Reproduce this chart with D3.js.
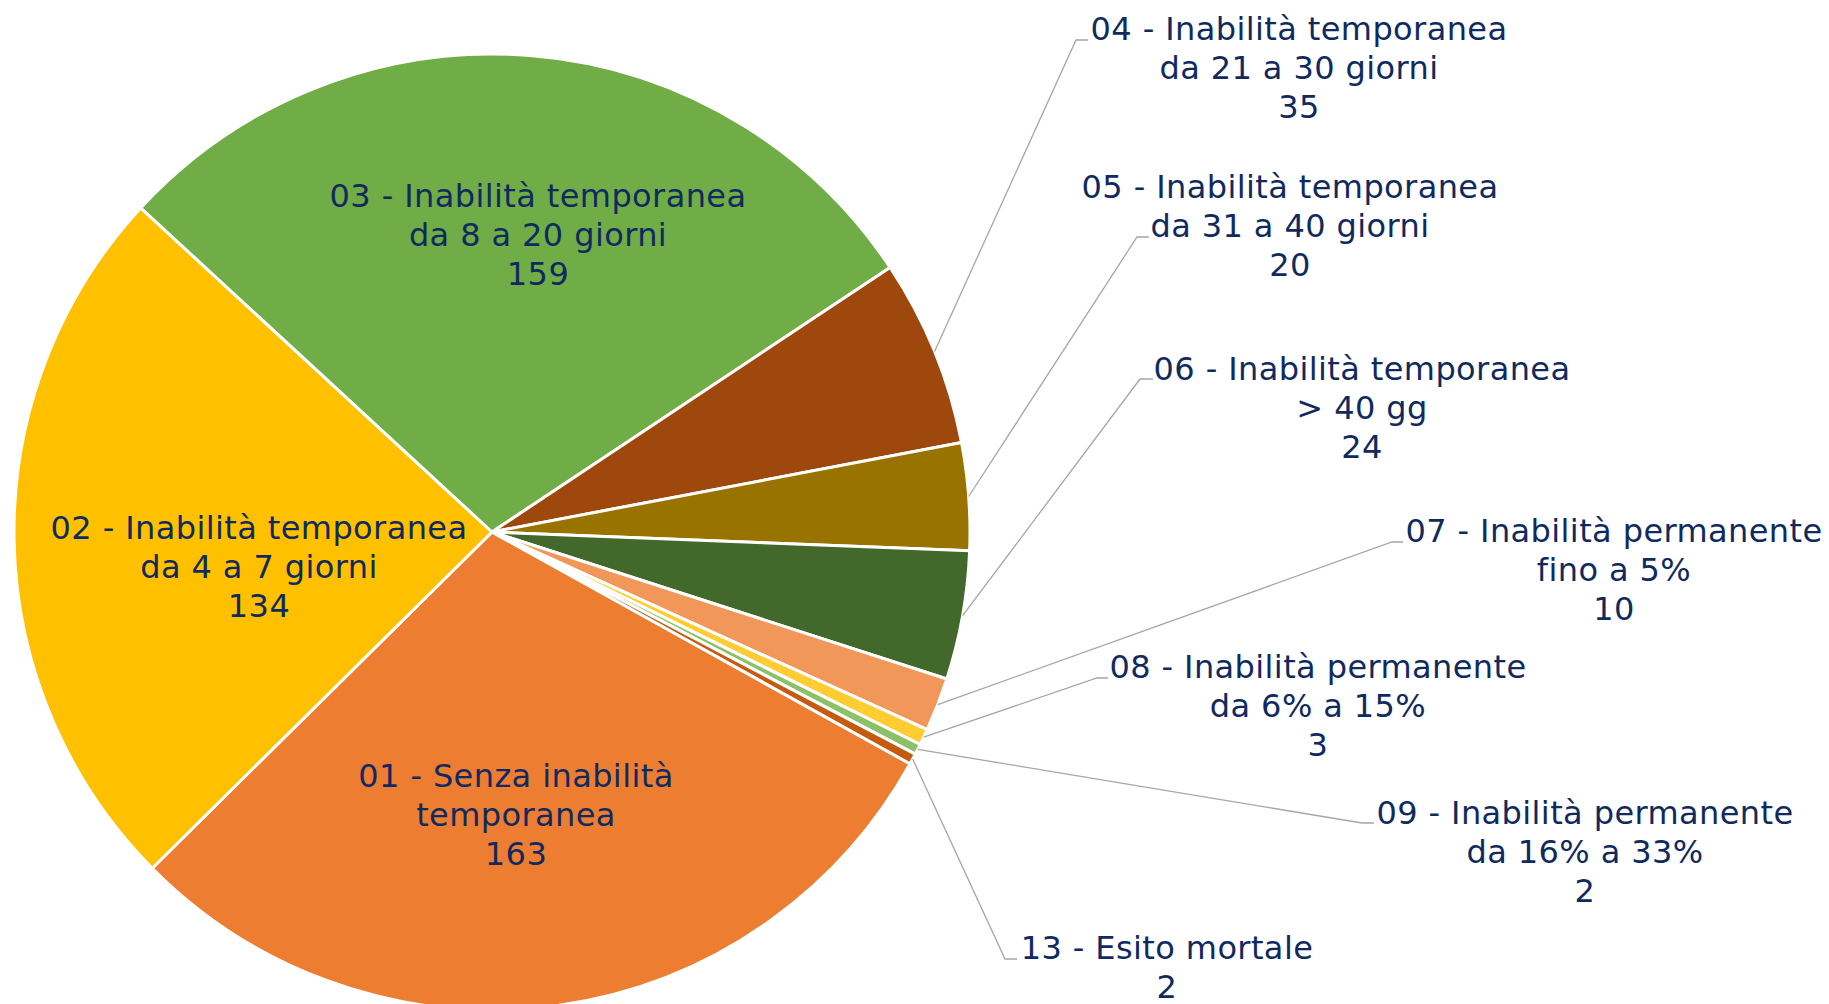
<!DOCTYPE html>
<html>
<head>
<meta charset="utf-8">
<script src="https://cdn.jsdelivr.net/npm/d3@7"></script>
<style>
  body { margin: 0; background: #fff; }
  svg { display: block; }
</style>
</head>
<body>
<div id="chart"></div>
<script>
// chart data
var categories = [
  ["01 - Senza inabilità", "temporanea"],
  ["02 - Inabilità temporanea", "da 4 a 7 giorni"],
  ["03 - Inabilità temporanea", "da 8 a 20 giorni"],
  ["04 - Inabilità temporanea", "da 21 a 30 giorni"],
  ["05 - Inabilità temporanea", "da 31 a 40 giorni"],
  ["06 - Inabilità temporanea", "> 40 gg"],
  ["07 - Inabilità permanente", "fino a 5%"],
  ["08 - Inabilità permanente", "da 6% a 15%"],
  ["09 - Inabilità permanente", "da 16% a 33%"],
  ["13 - Esito mortale"]
];
var values = [163, 134, 159, 35, 20, 24, 10, 3, 2, 2];
var colors = ["#ED7D31", "#FFC000", "#70AD47", "#9E480E", "#997300",
              "#43682B", "#F1975A", "#FFCD33", "#8CC168", "#C55A11"];

// label placement (label centre x, first line centre y, leader elbow), null elbow = inside label
var labelLayout = [
  {x: 516, y: 776, elbow: null},
  {x: 259, y: 528, elbow: null},
  {x: 538, y: 196, elbow: null},
  {x: 1299, y: 29, elbow: [1076, 40, 1088]},
  {x: 1290, y: 187, elbow: [1137, 237, 1149]},
  {x: 1362, y: 369, elbow: [1140, 379, 1153]},
  {x: 1614, y: 531, elbow: [1392, 542, 1403]},
  {x: 1318, y: 667, elbow: [1097, 678, 1108]},
  {x: 1585, y: 813, elbow: [1362, 823, 1374]},
  {x: 1167, y: 948, elbow: [1005, 959, 1017]}
];

var width = 1829,
    height = 1004;

var cx = 492,
    cy = 532,
    radius = 478;

var lineStep = 39,
    fontSize = 32,
    textColor = "#102A60";

var svg = d3.select("#chart")
  .append("svg")
  .attr("width", width)
  .attr("height", height);

var g = svg.append("g")
  .attr("transform", "translate(" + cx + "," + cy + ")");

var startAngle = 119 * Math.PI / 180;

var pie = d3.pie()
  .sort(null)
  .value(function(d) { return d; })
  .startAngle(startAngle)
  .endAngle(startAngle + 2 * Math.PI);

var arcs = pie(values);

var arc = d3.arc()
  .innerRadius(0)
  .outerRadius(radius);

// slices
g.selectAll(".slice")
  .data(arcs)
  .enter()
  .append("path")
  .attr("class", "slice")
  .attr("d", arc)
  .attr("fill", function(d, i) { return colors[i]; })
  .attr("stroke", "#fff")
  .attr("stroke-width", 3)
  .attr("stroke-linejoin", "round");

// leader lines for outside labels
var edgeArc = d3.arc().innerRadius(radius).outerRadius(radius);

g.selectAll(".leader")
  .data(arcs.filter(function(d, i) { return labelLayout[i].elbow; }))
  .enter()
  .append("path")
  .attr("class", "leader")
  .attr("fill", "none")
  .attr("stroke", "#A6A6A6")
  .attr("stroke-width", 1.3)
  .attr("d", function(d) {
    var p = edgeArc.centroid(d);
    var e = labelLayout[d.index].elbow;
    return "M" + p[0] + "," + p[1] +
      "L" + (e[0] - cx) + "," + (e[1] - cy) +
      "L" + (e[2] - cx) + "," + (e[1] - cy);
  });

// labels
var labels = svg.selectAll(".label")
  .data(arcs)
  .enter()
  .append("text")
  .attr("class", "label")
  .attr("text-anchor", "middle")
  .attr("font-family", "'DejaVu Sans', Verdana, sans-serif")
  .attr("font-size", fontSize + "px")
  .attr("letter-spacing", "0.4px")
  .attr("fill", textColor);

labels.each(function(d, i) {
  var lines = categories[i].concat([String(values[i])]);
  var pos = labelLayout[i];
  var t = d3.select(this);
  lines.forEach(function(line, k) {
    t.append("tspan")
      .attr("x", pos.x)
      .attr("y", pos.y + k * lineStep)
      .attr("dy", "0.35em")
      .text(line);
  });
});
</script>
</body>
</html>
